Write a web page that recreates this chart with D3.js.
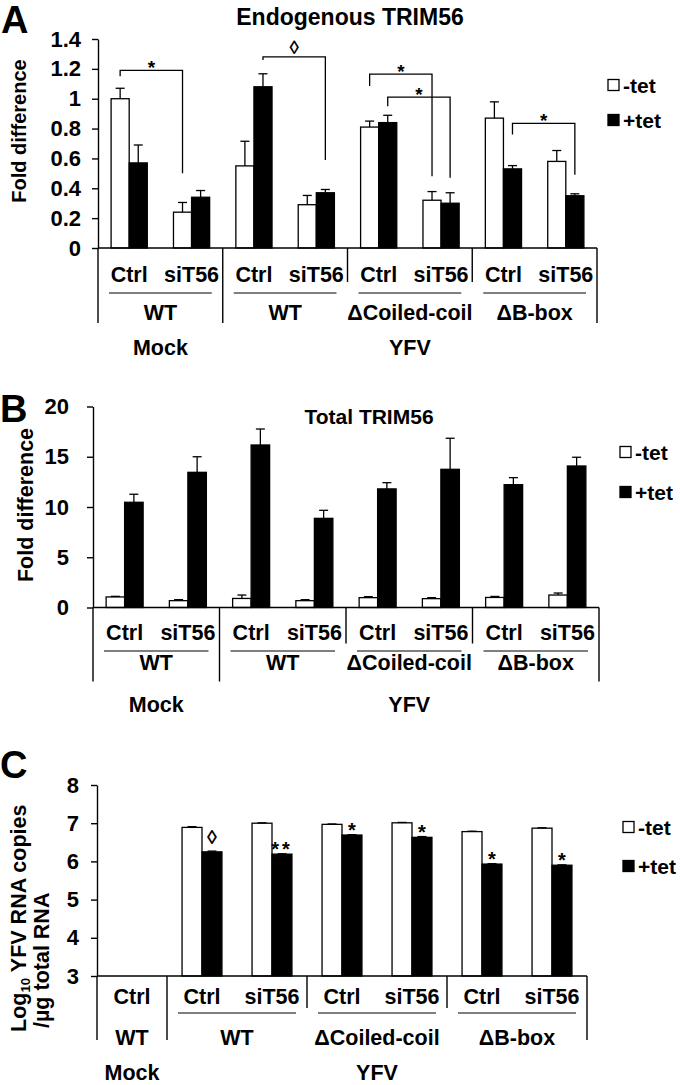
<!DOCTYPE html>
<html><head><meta charset="utf-8">
<script src="https://cdn.jsdelivr.net/npm/d3@7"></script>
<style>
body{margin:0;background:#fff}
svg{display:block}
text{font-family:"Liberation Sans",Arial,sans-serif;font-weight:bold;fill:#000}
</style>
</head><body>
<svg id="chart" width="680" height="1085"></svg>
<script>
// ---------------- data ----------------
const seriesNames = ["-tet", "+tet"];
const infectionsAB = ["Mock", "YFV"];
const infectionSpanAB = [2, 6];
const constructsAB = ["WT", "WT", "\u0394Coiled-coil", "\u0394B-box"];
const constructSpanAB = [2, 2, 2, 2];
const treatmentsAB = ["Ctrl", "siT56", "Ctrl", "siT56", "Ctrl", "siT56", "Ctrl", "siT56"];

// Panel A: Endogenous TRIM56
const endoMinus    = [1.00, 0.24, 0.55, 0.29, 0.81, 0.32, 0.87, 0.58];
const endoMinusErr = [0.07, 0.065, 0.165, 0.062, 0.04, 0.058, 0.109, 0.073];
const endoPlus     = [0.57, 0.34, 1.08, 0.37, 0.84, 0.30, 0.53, 0.35];
const endoPlusErr  = [0.12, 0.045, 0.087, 0.022, 0.049, 0.07, 0.022, 0.013];
const ticksA = [0, 0.2, 0.4, 0.6, 0.8, 1, 1.2, 1.4];
const tickLabelsA = ["0", "0.2", "0.4", "0.6", "0.8", "1", "1.2", "1.4"];
// significance brackets in A: [category, series]
const bracketFrom = [[0, 0], [2, 1], [4, 0], [4, 1], [6, 1]];
const bracketTo   = [[1, 0], [3, 1], [5, 0], [5, 1], [7, 1]];
const bracketTop       = [1.19, 1.28, 1.165, 1.01, 0.835];
const bracketLeftFoot  = [1.15, 1.26, 1.085, 0.95, 0.76];
const bracketRightFoot = [0.50, 0.59, 0.48, 0.47, 0.49];
const bracketLabel = ["*", "\u25CA", "*", "*", "*"];

// Panel B: Total TRIM56
const totalMinus    = [1.05, 0.68, 0.90, 0.68, 0.98, 0.88, 1.00, 1.24];
const totalMinusErr = [0.06, 0.10, 0.34, 0.10, 0.10, 0.10, 0.10, 0.20];
const totalPlus     = [10.47, 13.45, 16.17, 8.87, 11.80, 13.75, 12.22, 14.08];
const totalPlusErr  = [0.80, 1.55, 1.59, 0.80, 0.62, 3.09, 0.70, 0.87];
const ticksB = [0, 5, 10, 15, 20];
const tickLabelsB = ["0", "5", "10", "15", "20"];

// Panel C: YFV RNA
const infectionsC = ["Mock", "YFV"];
const infectionSpanC = [1, 6];
const constructsC = ["WT", "WT", "\u0394Coiled-coil", "\u0394B-box"];
const constructSpanC = [1, 2, 2, 2];
const treatmentsC = ["Ctrl", "Ctrl", "siT56", "Ctrl", "siT56", "Ctrl", "siT56"];
const yfvMinus    = [null, 6.89, 7.00, 6.97, 7.01, 6.78, 6.87];
const yfvMinusErr = [0, 0.02, 0.01, 0.01, 0.01, 0.01, 0.01];
const yfvPlus     = [null, 6.25, 6.19, 6.69, 6.63, 5.93, 5.90];
const yfvPlusErr  = [0, 0.02, 0.01, 0.01, 0.02, 0.01, 0.01];
const ticksC = [3, 4, 5, 6, 7, 8];
const tickLabelsC = ["3", "4", "5", "6", "7", "8"];
const markCat = [1, 2, 3, 4, 5, 6];
const markSymbol = ["\u25CA", "**", "*", "*", "*", "*"];

// ---------------- drawing ----------------
const svg = d3.select("#chart");
const FONT = '"Liberation Sans",Arial,sans-serif';

function drawPanel(cfg) {
  const g = svg.append("g");
  const n = cfg.treatments.length;
  const x = d3.scaleBand().domain(d3.range(n)).range([cfg.x0, cfg.x1])
    .paddingInner(cfg.pad).paddingOuter(cfg.pad / 2);
  const xs = d3.scaleBand().domain([0, 1]).range([0, x.bandwidth()]);
  const y = d3.scaleLinear().domain(cfg.domain).range([cfg.yBottom, cfg.yTop]);
  const step = x.step();
  const catLeft = i => x(i) - step * cfg.pad / 2;
  const catRight = i => catLeft(i) + step;
  const barCenter = (i, s) => x(i) + xs(s) + xs.bandwidth() / 2;

  const yAxis = d3.axisLeft(y).tickValues(cfg.ticks)
    .tickFormat((d, i) => cfg.tickLabels[i]).tickSize(6).tickSizeOuter(0).tickPadding(cfg.tickPad);
  const ya = g.append("g").attr("transform", `translate(${cfg.x0},0)`).call(yAxis);
  ya.selectAll("path,line").attr("stroke", "#000").attr("stroke-width", 1.4);
  ya.selectAll("text").attr("font-size", cfg.tickFont).attr("font-family", FONT)
    .attr("font-weight", "bold").attr("fill", "#000");

  const vals = [cfg.minus, cfg.plus];
  const errs = [cfg.minusErr, cfg.plusErr];
  const fills = ["#fff", "#000"];
  [0, 1].forEach(s => {
    const data = vals[s].map((v, i) => ({ v, e: errs[s][i], i })).filter(d => d.v != null);
    g.append("g").selectAll("rect").data(data).join("rect")
      .attr("x", d => x(d.i) + xs(s))
      .attr("width", xs.bandwidth())
      .attr("y", d => y(d.v))
      .attr("height", d => y(cfg.domain[0]) - y(d.v))
      .attr("fill", fills[s]).attr("stroke", "#000").attr("stroke-width", 1.3);
    const eb = g.append("g").attr("stroke", "#000").attr("stroke-width", 1.3);
    eb.selectAll("line.v").data(data).join("line").attr("class", "v")
      .attr("x1", d => barCenter(d.i, s)).attr("x2", d => barCenter(d.i, s))
      .attr("y1", d => y(d.v)).attr("y2", d => y(d.v + d.e));
    eb.selectAll("line.c").data(data).join("line").attr("class", "c")
      .attr("x1", d => barCenter(d.i, s) - 4.5).attr("x2", d => barCenter(d.i, s) + 4.5)
      .attr("y1", d => y(d.v + d.e)).attr("y2", d => y(d.v + d.e));
  });

  const y0 = y(cfg.domain[0]);
  const ax = g.append("g").attr("stroke", "#000").attr("stroke-width", 1.4);
  ax.append("line").attr("x1", cfg.x0).attr("x2", cfg.x1).attr("y1", y0).attr("y2", y0);
  let start = 0;
  const groupStarts = [];
  cfg.constructSpan.forEach(sp => { groupStarts.push(start); start += sp; });
  const infStarts = [];
  start = 0;
  cfg.infectionSpan.forEach(sp => { infStarts.push(start); start += sp; });
  const longIdx = new Set(infStarts.concat([n]));
  groupStarts.concat([n]).forEach(si => {
    const xx = si < n ? catLeft(si) : catRight(n - 1);
    const len = longIdx.has(si) ? cfg.longLen : cfg.shortLen;
    ax.append("line").attr("x1", xx).attr("x2", xx).attr("y1", y0).attr("y2", y0 + len);
  });
  cfg.constructSpan.forEach((sp, gi) => {
    if (sp < 2) return;
    const a = catLeft(groupStarts[gi]) + cfg.ulInset, b = catRight(groupStarts[gi] + sp - 1) - cfg.ulInset;
    ax.append("line").attr("x1", a).attr("x2", b).attr("y1", y0 + cfg.ulDy).attr("y2", y0 + cfg.ulDy)
      .attr("stroke-width", 1.1);
  });
  const lab = g.append("g").attr("font-size", cfg.catFont).attr("text-anchor", "middle");
  lab.selectAll("text.t").data(cfg.treatments).join("text").attr("class", "t")
    .attr("x", (d, i) => x(i) + x.bandwidth() / 2).attr("y", y0 + cfg.row1Dy)
    .attr("dominant-baseline", "central").text(d => d);
  lab.selectAll("text.c").data(cfg.constructs).join("text").attr("class", "c")
    .attr("x", (d, gi) => (catLeft(groupStarts[gi]) + catRight(groupStarts[gi] + cfg.constructSpan[gi] - 1)) / 2)
    .attr("y", y0 + cfg.row2Dy).attr("dominant-baseline", "central").text(d => d);
  lab.selectAll("text.inf").data(cfg.infections).join("text").attr("class", "inf")
    .attr("x", (d, k) => (catLeft(infStarts[k]) + catRight(infStarts[k] + cfg.infectionSpan[k] - 1)) / 2)
    .attr("y", y0 + cfg.row3Dy).attr("dominant-baseline", "central").text(d => d);

  if (cfg.title) {
    g.append("text").attr("x", cfg.titleX).attr("y", cfg.titleY).attr("text-anchor", "middle")
      .attr("font-size", cfg.titleFont).text(cfg.title);
  }
  g.append("text").attr("x", cfg.letterX).attr("y", cfg.letterY).attr("font-size", 38).text(cfg.letter);

  cfg.ylabel.forEach(l => {
    const t = g.append("text").attr("transform", `translate(${l.x},${l.y}) rotate(-90)`)
      .attr("text-anchor", l.anchor).attr("font-size", l.size);
    l.parts.forEach(p => {
      const ts = t.append("tspan").text(p.t);
      if (p.sub) ts.attr("font-size", l.size * 0.62).attr("dy", 4);
      if (p.after) ts.attr("dy", -4);
    });
  });

  const lg = g.append("g").attr("font-size", cfg.legFont);
  seriesNames.forEach((s, k) => {
    const cy = cfg.legY[k];
    lg.append("rect").attr("x", cfg.legX).attr("y", cy - 5.5).attr("width", 11).attr("height", 11)
      .attr("fill", fills[k]).attr("stroke", "#000").attr("stroke-width", 1.3);
    lg.append("text").attr("x", cfg.legX + 15).attr("y", cy).attr("dominant-baseline", "central").text(s);
  });

  return { x, xs, y, barCenter };
}

// Panel A
const pA = drawPanel({
  x0: 98, x1: 597, yBottom: 248, yTop: 39, domain: [0, 1.4], ticks: ticksA, tickLabels: tickLabelsA,
  treatments: treatmentsAB, constructs: constructsAB, constructSpan: constructSpanAB,
  infections: infectionsAB, infectionSpan: infectionSpanAB,
  minus: endoMinus, minusErr: endoMinusErr, plus: endoPlus, plusErr: endoPlusErr,
  pad: 0.42, tickFont: 22, tickPad: 11, catFont: 21.5, shortLen: 34, longLen: 75, ulInset: 11, ulDy: 45,
  row1Dy: 27, row2Dy: 65, row3Dy: 100,
  title: "Endogenous TRIM56", titleX: 350, titleY: 25, titleFont: 23,
  letter: "A", letterX: 1, letterY: 33,
  ylabel: [{ x: 26, y: 131, anchor: "middle", size: 20, parts: [{ t: "Fold difference" }] }],
  legFont: 21, legX: 608, legY: [85, 120]
});
const br = svg.append("g").attr("stroke", "#000").attr("stroke-width", 1.3).attr("fill", "none");
bracketFrom.forEach((f, k) => {
  const xa = pA.barCenter(f[0], f[1]);
  const xb = pA.barCenter(bracketTo[k][0], bracketTo[k][1]);
  const yt = pA.y(bracketTop[k]);
  br.append("path").attr("d",
    `M${xa},${pA.y(bracketLeftFoot[k])}V${yt}H${xb}V${pA.y(bracketRightFoot[k])}`);
  const isStar = bracketLabel[k] === "*";
  svg.append("text").attr("x", (xa + xb) / 2).attr("y", isStar ? yt + 4 : yt - 3)
    .attr("text-anchor", "middle").attr("font-weight", "normal").attr("font-size", 19)
    .text(bracketLabel[k]);
});

// Panel B
drawPanel({
  x0: 93, x1: 599, yBottom: 607.5, yTop: 406.5, domain: [0, 20], ticks: ticksB, tickLabels: tickLabelsB,
  treatments: treatmentsAB, constructs: constructsAB, constructSpan: constructSpanAB,
  infections: infectionsAB, infectionSpan: infectionSpanAB,
  minus: totalMinus, minusErr: totalMinusErr, plus: totalPlus, plusErr: totalPlusErr,
  pad: 0.415, tickFont: 22, tickPad: 18, catFont: 21.5, shortLen: 36, longLen: 74, ulInset: 11, ulDy: 43.5,
  row1Dy: 25.5, row2Dy: 55.5, row3Dy: 97.5,
  title: "Total TRIM56", titleX: 369, titleY: 424, titleFont: 21,
  letter: "B", letterX: 0, letterY: 422,
  ylabel: [{ x: 33, y: 505, anchor: "middle", size: 21.5, parts: [{ t: "Fold difference" }] }],
  legFont: 21, legX: 620, legY: [452, 492]
});

// Panel C
const pC = drawPanel({
  x0: 97, x1: 587, yBottom: 976, yTop: 785, domain: [3, 8], ticks: ticksC, tickLabels: tickLabelsC,
  treatments: treatmentsC, constructs: constructsC, constructSpan: constructSpanC,
  infections: infectionsC, infectionSpan: infectionSpanC,
  minus: yfvMinus, minusErr: yfvMinusErr, plus: yfvPlus, plusErr: yfvPlusErr,
  pad: 0.43, tickFont: 22, tickPad: 12, catFont: 21.5, shortLen: 32, longLen: 64, ulInset: 11, ulDy: 37,
  row1Dy: 21, row2Dy: 62, row3Dy: 97,
  title: null,
  letter: "C", letterX: 0, letterY: 778,
  ylabel: [
    { x: 26, y: 1032, anchor: "start", size: 21.5,
      parts: [{ t: "Log" }, { t: "10", sub: true }, { t: " YFV RNA copies", after: true }] },
    { x: 49, y: 1028, anchor: "start", size: 21.5, parts: [{ t: "/\u00B5g total RNA" }] }
  ],
  legFont: 21, legX: 623, legY: [827, 866]
});
markCat.forEach((c, k) => {
  const top = pC.y(yfvPlus[c] + yfvPlusErr[c]);
  const sym = markSymbol[k];
  svg.append("text").attr("x", pC.barCenter(c, 1)).attr("y", sym === "\u25CA" ? top - 7 : top + 2)
    .attr("text-anchor", "middle").attr("font-weight", "normal").attr("font-size", 20)
    .attr("letter-spacing", sym === "**" ? 3 : 0).text(sym);
});
</script>
</body></html>
